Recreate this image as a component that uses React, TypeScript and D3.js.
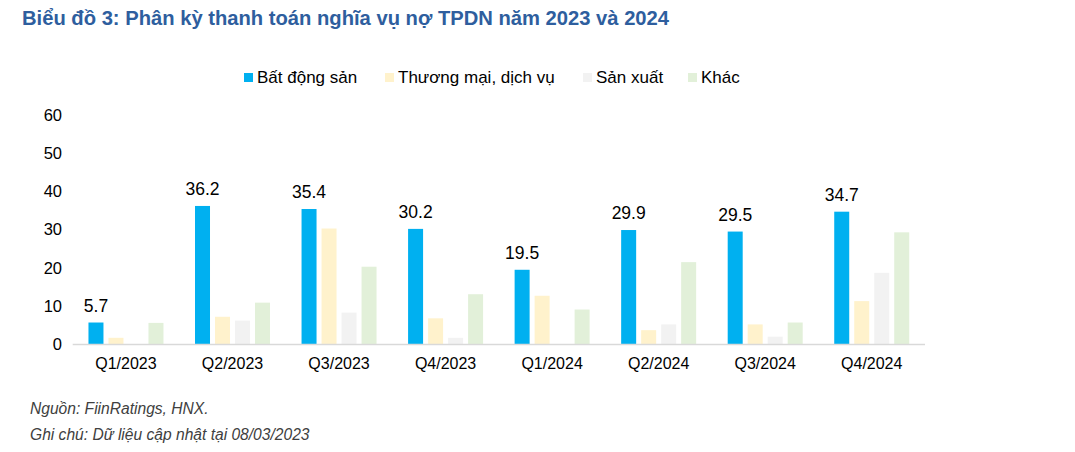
import React from "react";
import * as d3 from "d3";

const categories = ["Q1/2023", "Q2/2023", "Q3/2023", "Q4/2023", "Q1/2024", "Q2/2024", "Q3/2024", "Q4/2024"];
const seriesNames = ["Bất động sản", "Thương mại, dịch vụ", "Sản xuất", "Khác"];
const batDongSan = [5.7, 36.2, 35.4, 30.2, 19.5, 29.9, 29.5, 34.7];
const thuongMai = [1.7, 7.2, 30.3, 6.8, 12.7, 3.7, 5.2, 11.3];
const sanXuat = [0, 6.2, 8.3, 1.7, 0, 5.2, 2.0, 18.7];
const khac = [5.6, 10.9, 20.3, 13.1, 9.1, 21.5, 5.7, 29.3];
const yTicks = [0, 10, 20, 30, 40, 50, 60];
const colors = ["#00B0F0", "#FFF2CC", "#F2F2F2", "#E2F0D9"];

const W = 1075;
const H = 452;
const FONT = "'Liberation Sans', Arial, sans-serif";

export default function App() {
  const seriesValues = [batDongSan, thuongMai, sanXuat, khac];
  const x0 = d3.scaleBand<string>().domain(categories).range([72.7, 925]).padding(0);
  const x1 = d3
    .scaleBand<string>()
    .domain(seriesNames)
    .range([0, 75])
    .paddingInner(0.25)
    .paddingOuter(0);
  const y = d3.scaleLinear().domain([0, 60]).range([344.3, 115]);
  const groupOffset = (x0.bandwidth() - 75) / 2;

  const legendX = [244, 385, 583, 688];

  return (
    <svg width={W} height={H} style={{ position: "absolute", left: 0, top: 0, background: "#fff" }} fontFamily={FONT}>
      <rect x={0} y={0} width={W} height={H} fill="#fff" />
      <text x={22} y={25} fontSize={20.2} fontWeight="bold" fill="#2E5E9E">
        Biểu đồ 3: Phân kỳ thanh toán nghĩa vụ nợ TPDN năm 2023 và 2024
      </text>

      {seriesNames.map((s, i) => (
        <g key={s}>
          <rect x={legendX[i]} y={73} width={9} height={9} fill={colors[i]} />
          <text x={legendX[i] + 13} y={83} fontSize={17} fill="#000">
            {s}
          </text>
        </g>
      ))}

      {yTicks.map((t) => (
        <text key={t} x={62} y={y(t)} dy="0.35em" textAnchor="end" fontSize={16.5} fill="#000">
          {t}
        </text>
      ))}

      {categories.map((c, ci) => (
        <g key={c} transform={`translate(${(x0(c) ?? 0) + groupOffset},0)`}>
          {seriesNames.map((s, si) => {
            const v = seriesValues[si][ci];
            return (
              <rect
                key={s}
                x={x1(s)}
                y={y(v)}
                width={x1.bandwidth()}
                height={y(0) - y(v)}
                fill={colors[si]}
              />
            );
          })}
          <text
            x={(x1(seriesNames[0]) ?? 0) + x1.bandwidth() / 2}
            y={y(batDongSan[ci]) - 11}
            textAnchor="middle"
            fontSize={17.5}
            fill="#000"
          >
            {batDongSan[ci].toFixed(1)}
          </text>
        </g>
      ))}

      <line x1={72.7} x2={925} y1={344.5} y2={344.5} stroke="#D9D9D9" strokeWidth={1.5} />

      {categories.map((c) => (
        <text
          key={c}
          x={(x0(c) ?? 0) + x0.bandwidth() / 2}
          y={363}
          dy="0.35em"
          textAnchor="middle"
          fontSize={16}
          fill="#000"
        >
          {c}
        </text>
      ))}

      <text x={30} y={414} fontSize={15.6} fontStyle="italic" fill="#404040">
        Nguồn: FiinRatings, HNX.
      </text>
      <text x={30} y={440} fontSize={15.6} fontStyle="italic" fill="#404040">
        Ghi chú: Dữ liệu cập nhật tại 08/03/2023
      </text>
    </svg>
  );
}
